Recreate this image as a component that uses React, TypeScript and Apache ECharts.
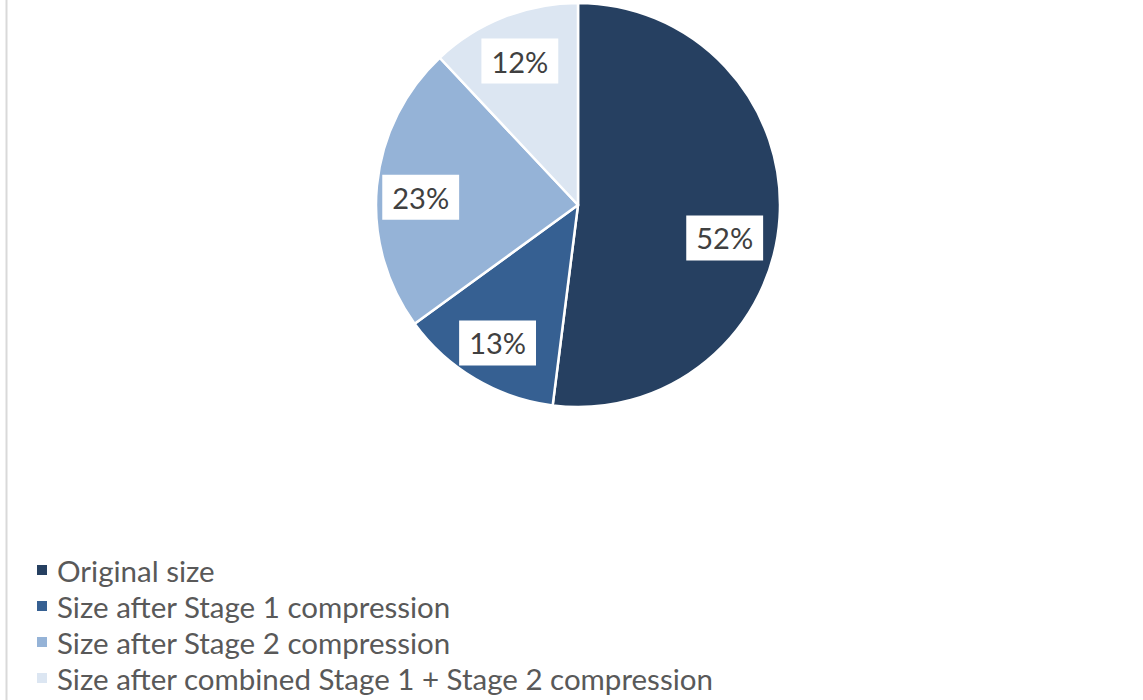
import React, { useEffect, useRef } from "react";
import * as echarts from "echarts";

const categories = [
  "Original size",
  "Size after Stage 1 compression",
  "Size after Stage 2 compression",
  "Size after combined Stage 1 + Stage 2 compression",
];
const values = [52, 13, 23, 12];
const colors = ["#264061", "#366092", "#95B3D7", "#DCE6F2"];
const labelShift = [
  [-11, 23],
  [0, 2],
  [0, 7],
  [0, 3],
];

export default function App() {
  const ref = useRef<HTMLDivElement>(null);
  useEffect(() => {
    const chart = echarts.init(ref.current!, null, { renderer: "svg" });
    const font = "Lato, 'Liberation Sans', sans-serif";
    chart.setOption({
      animation: false,
      backgroundColor: "#ffffff",
      color: colors,
      legend: {
        orient: "vertical",
        left: 30,
        top: 550,
        height: 200,
        itemWidth: 12,
        itemHeight: 12,
        itemGap: 6,
        icon: "rect",
        data: categories,
        selectedMode: false,
        textStyle: { fontFamily: font, fontSize: 29.5, color: "#595959", lineHeight: 30, padding: [0, 0, 0, 4] },
      },
      graphic: [
        {
          type: "line",
          shape: { x1: 6.5, y1: -5, x2: 6.5, y2: 705 },
          style: { stroke: "#d9d9d9", lineWidth: 2 },
          silent: true,
        },
      ],
      series: [
        {
          type: "pie",
          center: [578, 205],
          radius: [0, 202],
          startAngle: 90,
          clockwise: true,
          silent: true,
          label: { show: false },
          labelLine: { show: false },
          itemStyle: { borderColor: "#ffffff", borderWidth: 2.5 },
          data: categories.map((c, i) => ({ name: c, value: values[i], itemStyle: { color: colors[i] } })),
        },
        {
          type: "pie",
          center: [578, 205],
          radius: [0, 310],
          startAngle: 90,
          clockwise: true,
          silent: true,
          itemStyle: { color: "rgba(0,0,0,0)", borderWidth: 0 },
          emphasis: { disabled: true },
          labelLine: { show: false },
          label: {
            show: true,
            position: "inside",
            formatter: (p: any) => `${p.value}%`,
            fontFamily: font,
            fontSize: 29,
            color: "#404040",
            backgroundColor: "#ffffff",
            padding: [9, 10, 7, 10],
          },
          labelLayout: (p: any) => ({ dx: labelShift[p.dataIndex][0], dy: labelShift[p.dataIndex][1] }),
          data: categories.map((c, i) => ({ name: c, value: values[i] })),
        },
      ],
    });
    return () => chart.dispose();
  }, []);
  return (
    <div
      ref={ref}
      style={{ position: "fixed", left: 0, top: 0, width: 1143, height: 700 }}
    />
  );
}
